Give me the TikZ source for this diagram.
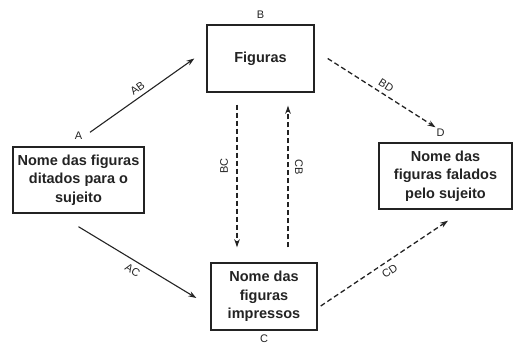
\documentclass[tikz,border=0pt]{standalone}
\usepackage{fontspec}
\setmainfont{Liberation Sans}
\usetikzlibrary{arrows.meta,positioning}

\definecolor{ink}{RGB}{35,35,35}

\begin{document}
\begin{tikzpicture}[x=1pt,y=-1pt,
    every node/.style={inner sep=0pt,text=ink},
    caixa/.style={draw=ink,line width=1.4pt,align=center,
      font=\fontsize{14.5}{18.5}\selectfont\bfseries},
    letra/.style={font=\fontsize{11}{13}\selectfont},
    seta/.style={draw=ink,line width=1.1pt,-{Stealth[length=8pt,width=5.5pt]}},
    tracejada/.style={seta,line width=1.3pt,dash pattern=on 5pt off 3pt}]
    \useasboundingbox (0,0) rectangle (513,345);
    % caixas
    \node [caixa,minimum width=131pt,minimum height=66pt] (boxA) at (78.5,180)
      {Nome das figuras\\ditados para o\\sujeito};
    \node [caixa,minimum width=107pt,minimum height=67pt] (boxB) at (260.5,58.5)
      {Figuras};
    \node [caixa,minimum width=106pt,minimum height=67pt] (boxC) at (264,296.5)
      {Nome das\\figuras\\impressos};
    \node [caixa,minimum width=133pt,minimum height=66pt] (boxD) at (445.5,176)
      {Nome das\\figuras falados\\pelo sujeito};
    % letras
    \node [letra,above=7pt of boxA] (lblA) {A};
    \node [letra,above=6pt of boxB] (lblB) {B};
    \node [letra,below=4pt of boxC] (lblC) {C};
    \node [letra,above=6pt of boxD,xshift=-5pt] (lblD) {D};
    % setas
    \draw [seta] ([xshift=11.5pt,yshift=14pt]boxA.north) -- ([xshift=-12pt]boxB.west)
      node [letra,midway,sloped,above=4pt] {AB};
    \draw [seta] ([yshift=-13pt]boxA.south) -- ([xshift=-14pt,yshift=-1.5pt]boxC.west)
      node [letra,midway,sloped,below=5pt] {AC};
    \draw [tracejada] ([xshift=13pt]boxB.east) -- ([xshift=-10pt,yshift=15pt]boxD.north)
      node [letra,midway,sloped,above=4pt] {BD};
    \draw [tracejada] ([xshift=3pt,yshift=-9.5pt]boxC.east) -- ([xshift=2.5pt,yshift=-11pt]boxD.south)
      node [letra,midway,sloped,below=5pt] {CD};
    \draw [tracejada] ([xshift=-23.5pt,yshift=-12pt]boxB.south) -- ([xshift=-27pt,yshift=15pt]boxC.north)
      node [letra,midway,xshift=-13pt,yshift=10pt,rotate=90] {BC};
    \draw [tracejada] ([xshift=24pt,yshift=15pt]boxC.north) -- ([xshift=27.5pt,yshift=-13pt]boxB.south)
      node [letra,midway,xshift=11pt,yshift=9.5pt,rotate=-90] {CB};
\end{tikzpicture}
\end{document}
